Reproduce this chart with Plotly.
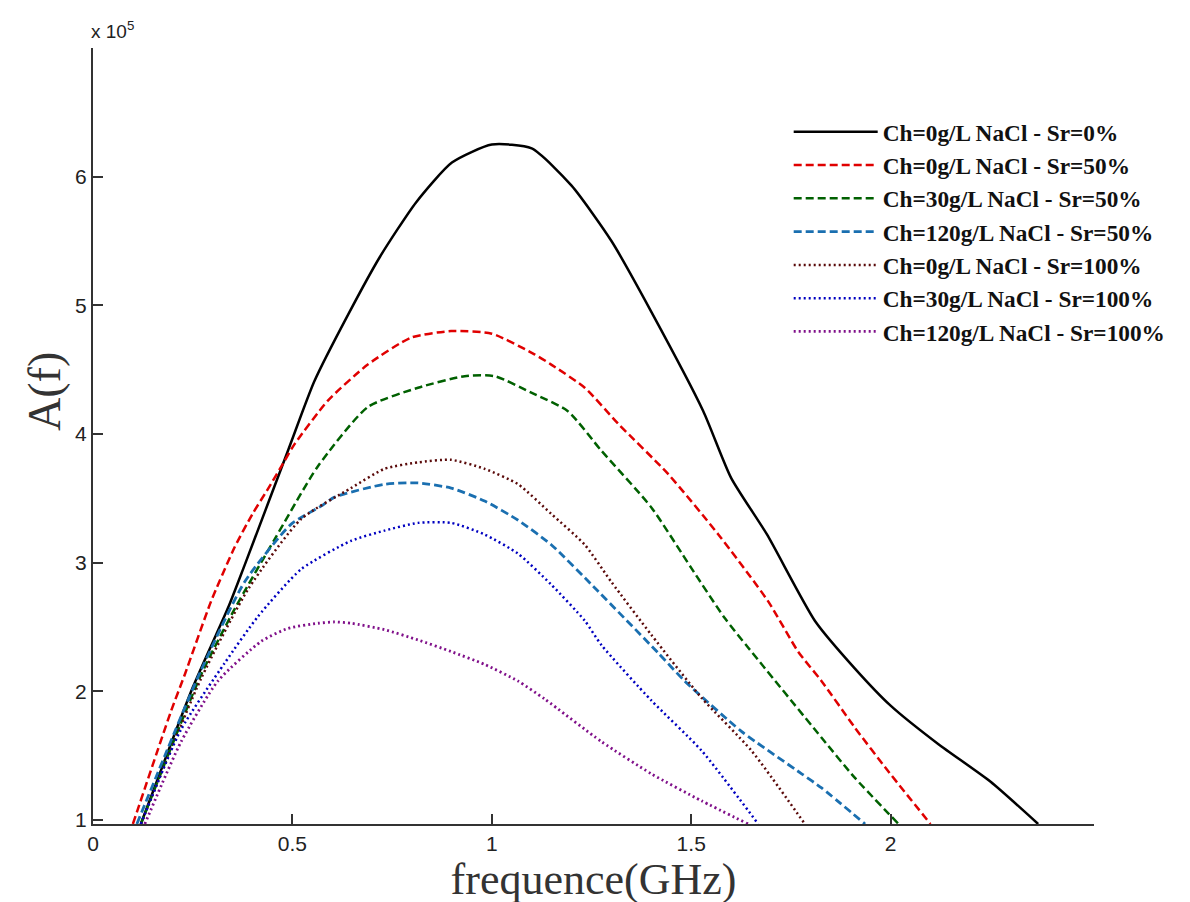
import plotly.graph_objects as go

# values in units of 1e5
names = [
    "Ch=0g/L NaCl - Sr=0%",
    "Ch=0g/L NaCl - Sr=50%",
    "Ch=30g/L NaCl - Sr=50%",
    "Ch=120g/L NaCl - Sr=50%",
    "Ch=0g/L NaCl - Sr=100%",
    "Ch=30g/L NaCl - Sr=100%",
    "Ch=120g/L NaCl - Sr=100%",
]

x_black = [0.12, 0.25, 0.34, 0.38, 0.49, 0.555, 0.64, 0.72, 0.81, 0.90, 1.0, 1.10, 1.2, 1.3, 1.4, 1.53, 1.6, 1.69, 1.81, 1.91, 2.0, 2.12, 2.25, 2.37]
y_black = [0.97, 2.03, 2.66, 2.98, 3.88, 4.41, 4.93, 5.38, 5.80, 6.11, 6.25, 6.22, 5.93, 5.50, 4.95, 4.18, 3.66, 3.22, 2.55, 2.18, 1.89, 1.59, 1.30, 0.97]

x_red = [0.10, 0.196, 0.23, 0.296, 0.355, 0.40, 0.44, 0.48, 0.505, 0.589, 0.689, 0.798, 0.898, 1.0, 1.107, 1.149, 1.233, 1.317, 1.442, 1.568, 1.693, 1.768, 1.827, 1.91, 1.994, 2.10]
y_red = [0.97, 1.85, 2.13, 2.70, 3.12, 3.38, 3.58, 3.79, 3.92, 4.26, 4.54, 4.75, 4.80, 4.78, 4.62, 4.54, 4.36, 4.08, 3.69, 3.22, 2.70, 2.31, 2.08, 1.72, 1.38, 0.97]

x_green = [0.12, 0.271, 0.355, 0.455, 0.564, 0.689, 0.815, 0.932, 1.007, 1.107, 1.19, 1.275, 1.40, 1.50, 1.584, 1.643, 1.827, 1.91, 2.02]
y_green = [0.97, 2.13, 2.64, 3.18, 3.75, 4.21, 4.36, 4.45, 4.45, 4.31, 4.18, 3.87, 3.43, 2.96, 2.57, 2.34, 1.64, 1.33, 0.97]

x_blue = [0.11, 0.263, 0.38, 0.497, 0.572, 0.606, 0.731, 0.815, 0.898, 0.982, 1.066, 1.149, 1.266, 1.417, 1.484, 1.626, 1.777, 1.827, 1.936]
y_blue = [0.97, 2.11, 2.85, 3.30, 3.44, 3.51, 3.61, 3.62, 3.58, 3.48, 3.33, 3.14, 2.78, 2.30, 2.08, 1.69, 1.36, 1.25, 0.97]

x_brown = [0.12, 0.271, 0.39, 0.522, 0.647, 0.731, 0.815, 0.898, 0.982, 1.066, 1.149, 1.233, 1.30, 1.40, 1.526, 1.651, 1.785]
y_brown = [0.97, 2.10, 2.80, 3.34, 3.58, 3.73, 3.78, 3.80, 3.73, 3.61, 3.38, 3.14, 2.85, 2.44, 1.95, 1.54, 0.97]

x_bluedot = [0.12, 0.22, 0.33, 0.413, 0.522, 0.647, 0.731, 0.815, 0.898, 0.982, 1.066, 1.149, 1.233, 1.275, 1.40, 1.526, 1.668]
y_bluedot = [0.97, 1.70, 2.22, 2.58, 2.95, 3.17, 3.25, 3.31, 3.31, 3.22, 3.07, 2.83, 2.55, 2.36, 1.93, 1.54, 0.97]

x_purple = [0.13, 0.221, 0.313, 0.422, 0.489, 0.564, 0.606, 0.647, 0.731, 0.815, 0.898, 0.982, 1.066, 1.133, 1.275, 1.40, 1.526, 1.643]
y_purple = [0.97, 1.61, 2.08, 2.39, 2.49, 2.53, 2.54, 2.53, 2.48, 2.40, 2.31, 2.21, 2.08, 1.94, 1.61, 1.36, 1.15, 0.97]

xs = [x_black, x_red, x_green, x_blue, x_brown, x_bluedot, x_purple]
ys = [y_black, y_red, y_green, y_blue, y_brown, y_bluedot, y_purple]
colors = ["#000000", "#e00000", "#006000", "#1a6fb0", "#5a0a0a", "#0000c0", "#80108a"]
dashes = ["solid", "8px,4px", "8px,4px", "8px,4px", "2px,3px", "2px,3px", "2px,3px"]
widths = [2.5, 2.5, 2.5, 2.8, 2.5, 2.5, 2.8]

x_ticks = [0, 0.5, 1, 1.5, 2]
x_ticklabels = ["0", "0.5", "1", "1.5", "2"]
y_ticks = [1, 2, 3, 4, 5, 6]

fig = go.Figure()
for n, x, y, c, d, w in zip(names, xs, ys, colors, dashes, widths):
    fig.add_trace(go.Scatter(x=x, y=y, mode="lines", name="<b>" + n + "</b>",
                             line=dict(color=c, dash=d, width=w, shape="spline", smoothing=0.6)))

axis_common = dict(showline=True, linecolor="#333333", linewidth=2, ticks="inside",
                   ticklen=10, tickwidth=1.5, tickcolor="#333333", showgrid=False,
                   zeroline=False, mirror=False, automargin=False,
                   tickfont=dict(family="Liberation Sans, Arial", size=21, color="#222222"))

serif = "Liberation Serif, Times New Roman"

fig.update_layout(
    width=1190, height=902,
    margin=dict(l=85, r=104, t=40, b=86),
    paper_bgcolor="white", plot_bgcolor="white",
    showlegend=True,
    legend=dict(x=0.695, y=0.92, xanchor="left", yanchor="top",
                font=dict(family=serif, size=23.3, color="#111111"),
                itemwidth=84, tracegroupgap=0, bgcolor="rgba(0,0,0,0)"),
    xaxis=dict(range=[0, 2.51], tickvals=x_ticks, ticktext=x_ticklabels,
               title=dict(text="frequence(GHz)", standoff=4,
                          font=dict(family=serif, size=44, color="#333333")),
               **axis_common),
    yaxis=dict(range=[0.97, 7.0], tickvals=y_ticks, ticktext=[str(v) for v in y_ticks],
               **axis_common),
    annotations=[
        dict(text="x 10<sup>5</sup>", xref="paper", yref="paper", x=-0.004, y=1.0,
             xanchor="left", yanchor="bottom", yshift=4, showarrow=False,
             font=dict(family="Liberation Sans, Arial", size=19, color="#222222")),
        dict(text="A(f)", xref="paper", yref="paper", x=-0.048, y=0.558,
             xanchor="center", yanchor="middle", textangle=-90, showarrow=False,
             font=dict(family=serif, size=46, color="#333333")),
    ],
)

fig.write_html("out.html")
